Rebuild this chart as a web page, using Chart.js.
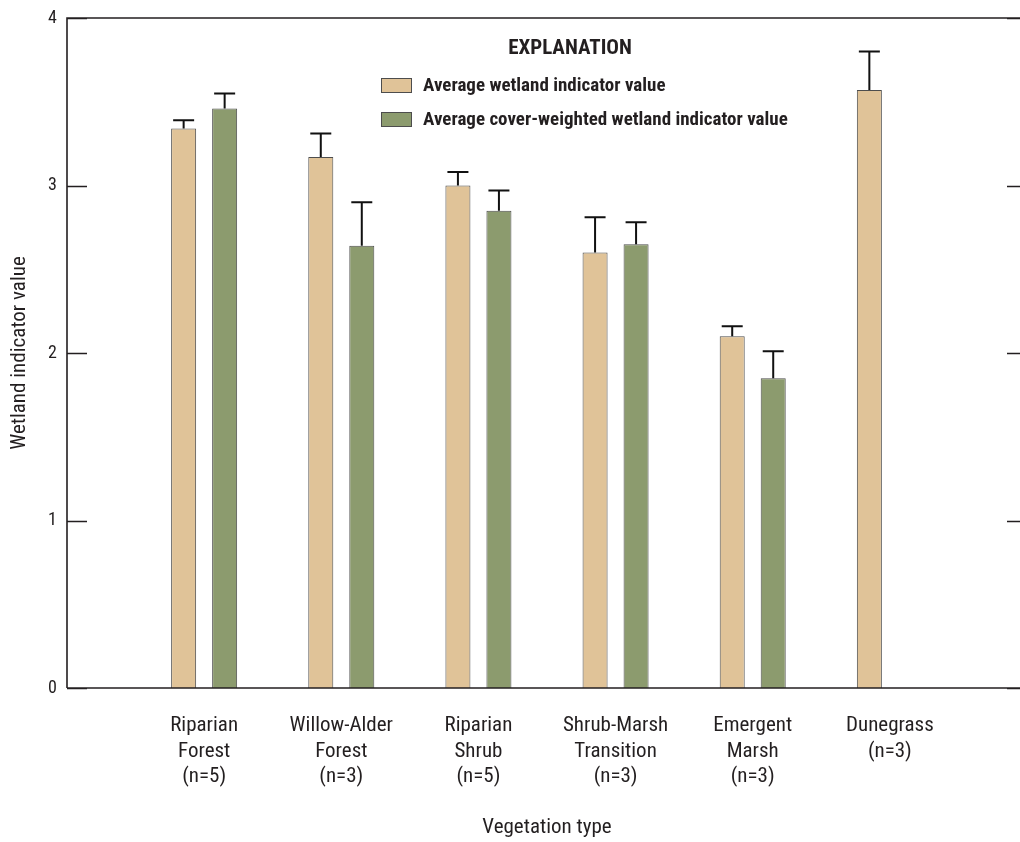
<!DOCTYPE html>
<html>
<head>
<meta charset="utf-8">
<style>
  html, body { margin: 0; padding: 0; background: #fff; overflow: hidden; }
  #wrap { position: relative; width: 1034px; height: 842px; }
</style>
<script src="https://cdn.jsdelivr.net/npm/chart.js@4.4.1/dist/chart.umd.min.js"></script>
</head>
<body>
<div id="wrap"><canvas id="c" width="1034" height="842"></canvas></div>
<script>
// Vegetation types (multi-line axis labels); blank slots pad both ends of the axis
const categories = [
  '',
  ['Riparian', 'Forest', '(n=5)'],
  ['Willow-Alder', 'Forest', '(n=3)'],
  ['Riparian', 'Shrub', '(n=5)'],
  ['Shrub-Marsh', 'Transition', '(n=3)'],
  ['Emergent', 'Marsh', '(n=3)'],
  ['Dunegrass', '(n=3)'],
  ''
];

// Average wetland indicator value and its upper error
const avgIndicator      = [null, 3.34, 3.17, 3.00, 2.60, 2.10, 3.57, null];
const avgIndicatorErr   = [null, 0.05, 0.14, 0.08, 0.21, 0.06, 0.23, null];

// Average cover-weighted wetland indicator value and its upper error
const coverWeighted     = [null, 3.46, 2.64, 2.85, 2.65, 1.85, null, null];
const coverWeightedErr  = [null, 0.09, 0.26, 0.12, 0.13, 0.16, null, null];

const yTicks = [0, 1, 2, 3, 4];

const seriesNames = ['Average wetland indicator value', 'Average cover-weighted wetland indicator value'];
const tan = '#E0C398';
const green = '#8C9B6E';
const edge = '#4d4d4d';
const ink = '#231f20';
const FONT = '"Roboto Condensed", "Liberation Sans Narrow", "DejaVu Sans Condensed", sans-serif';

const errors = [avgIndicatorErr, coverWeightedErr];

// Upper error whiskers with caps
const errorBars = {
  id: 'errorBars',
  afterDatasetsDraw(chart) {
    const ctx = chart.ctx;
    const y = chart.scales.y;
    ctx.save();
    ctx.strokeStyle = '#111';
    ctx.lineWidth = 2;
    chart.data.datasets.forEach((ds, i) => {
      const meta = chart.getDatasetMeta(i);
      meta.data.forEach((bar, j) => {
        const v = ds.data[j];
        const e = errors[i][j];
        if (v == null || e == null) return;
        const top = y.getPixelForValue(v + e);
        ctx.beginPath();
        ctx.moveTo(bar.x, bar.y);
        ctx.lineTo(bar.x, top);
        ctx.moveTo(bar.x - 10.5, top);
        ctx.lineTo(bar.x + 10.5, top);
        ctx.stroke();
      });
    });
    ctx.restore();
  }
};

// Frame around the plot with inward ticks on both vertical sides
const frame = {
  id: 'frame',
  afterDraw(chart) {
    const { ctx, chartArea: a } = chart;
    const y = chart.scales.y;
    ctx.save();
    ctx.strokeStyle = ink;
    ctx.lineWidth = 1.6;
    ctx.beginPath();
    ctx.moveTo(a.left, a.bottom);
    ctx.lineTo(a.left, a.top);
    ctx.lineTo(a.right, a.top);
    ctx.lineTo(a.right, a.bottom);
    ctx.moveTo(a.left, a.bottom);
    ctx.lineTo(a.right, a.bottom);
    y.ticks.forEach(t => {
      const py = Math.round(y.getPixelForValue(t.value)) + 0.5;
      ctx.moveTo(a.left, py); ctx.lineTo(a.left + 20, py);
      ctx.moveTo(a.right, py); ctx.lineTo(a.right - 20, py);
    });
    ctx.stroke();
    ctx.restore();
  }
};

// Explanation box inside the plot
const explanation = {
  id: 'explanation',
  afterDraw(chart) {
    const { ctx, chartArea: a } = chart;
    const x0 = a.left + 314;
    ctx.save();
    ctx.fillStyle = ink;
    ctx.textBaseline = 'middle';
    ctx.font = 'bold 21px ' + FONT;
    ctx.textAlign = 'center';
    ctx.fillText('EXPLANATION', a.left + 503, a.top + 31);
    ctx.textAlign = 'left';
    ctx.font = 'bold 19px ' + FONT;
    const colors = [tan, green];
    const rows = [a.top + 67, a.top + 101];
    seriesNames.forEach((name, i) => {
      const cy = rows[i];
      ctx.fillStyle = colors[i];
      ctx.fillRect(x0, cy - 7, 31, 15);
      ctx.strokeStyle = edge;
      ctx.lineWidth = 1;
      ctx.strokeRect(x0 + 0.5, cy - 6.5, 30, 14);
      ctx.fillStyle = ink;
      ctx.fillText(name, x0 + 42, cy + 1);
    });
    ctx.restore();
  }
};

new Chart(document.getElementById('c'), {
  type: 'bar',
  data: {
    labels: categories,
    datasets: [
      { label: seriesNames[0], data: avgIndicator, backgroundColor: tan, borderColor: edge, borderWidth: 1 },
      { label: seriesNames[1], data: coverWeighted, backgroundColor: green, borderColor: edge, borderWidth: 1 }
    ]
  },
  options: {
    responsive: false,
    animation: false,
    devicePixelRatio: 1,
    layout: { padding: { left: 0, right: 7, top: 18, bottom: 0 } },
    datasets: { bar: { categoryPercentage: 0.598, barPercentage: 0.61 } },
    plugins: { legend: { display: false }, tooltip: { enabled: false } },
    scales: {
      x: {
        offset: false,
        grid: { display: false, drawTicks: false },
        border: { display: false },
        ticks: {
          color: ink,
          font: { family: FONT, size: 21, lineHeight: 1.22 },
          padding: 25,
          maxRotation: 0,
          autoSkip: false
        },
        title: {
          display: true,
          text: 'Vegetation type',
          color: ink,
          font: { family: FONT, size: 21 },
          padding: { top: 0, bottom: 2 }
        },
        afterFit(s) {
          s.height = 154;
          s.paddingLeft = 0;
          s.paddingRight = 0;
        }
      },
      y: {
        min: 0,
        max: 4,
        afterBuildTicks(s) { s.ticks = yTicks.map(v => ({ value: v })); },
        grid: { display: false, drawTicks: false },
        border: { display: false },
        ticks: {
          color: ink,
          font: { family: FONT, size: 18 },
          padding: 10
        },
        title: {
          display: true,
          text: 'Wetland indicator value',
          color: ink,
          font: { family: FONT, size: 21 },
          padding: { top: 7, bottom: 0 }
        },
        afterFit(s) {
          s.width = 67;
          s.paddingTop = 0;
          s.paddingBottom = 0;
        }
      }
    }
  },
  plugins: [errorBars, frame, explanation]
});
</script>
</body>
</html>
